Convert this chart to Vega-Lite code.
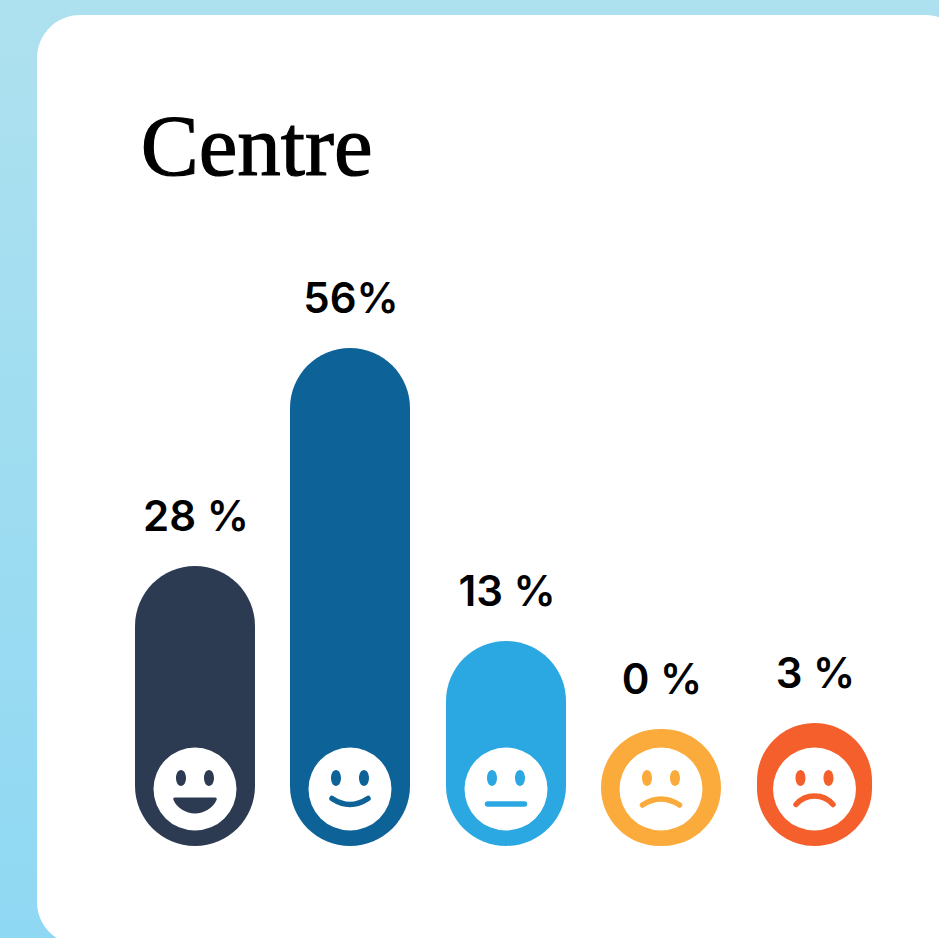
{
"$schema":"https://vega.github.io/schema/vega-lite/v6.json",
"width":939,"height":938,"padding":0,"autosize":{"type":"none"},
"background":"#ffffff",
"config":{"view":{"stroke":null}},
"datasets":{"ratings":[
{"rank":1,"mood":"very happy","pct":28,"label":"28 %","color":"#2c3a52"},
{"rank":2,"mood":"happy","pct":56,"label":"56%","color":"#0d6298"},
{"rank":3,"mood":"neutral","pct":13,"label":"13 %","color":"#2ba8e2"},
{"rank":4,"mood":"unhappy","pct":0,"label":"0 %","color":"#fbaa3c"},
{"rank":5,"mood":"very unhappy","pct":3,"label":"3 %","color":"#f55f2c"}
]},
"layer":[
{"data":{"values":[{"part":"page"}]},
 "mark":{"type":"rect","color":{"gradient":"linear","x1":0,"y1":0,"x2":0,"y2":1,"stops":[{"offset":0,"color":"#aee1ef"},{"offset":1,"color":"#8fd8f3"}]}},
 "encoding":{}},
{"data":{"values":[{"part":"card"}]},
 "mark":{"type":"rect","color":"#ffffff","cornerRadius":43,"clip":true},
 "encoding":{
  "x":{"datum":0,"type":"quantitative","axis":null,"scale":{"domain":[0,1,2,3,4,5,6],"range":[37,195,350,506,661,814.5,968],"padding":0,"zero":false,"nice":false}},
  "x2":{"datum":6},
  "y":{"datum":100,"type":"quantitative","axis":null,"scale":{"domain":[-20,-10,0,3,13,28,56,100],"range":[945,846,729,723,641,566,348,15],"zero":false,"nice":false}},
  "y2":{"datum":-20}}},
{"data":{"values":[{"title":"Centre"}]},
 "mark":{"type":"text","align":"left","baseline":"alphabetic","font":"Liberation Serif","fontSize":87,"color":"#000000","stroke":"#000000","strokeWidth":1.2},
 "encoding":{"text":{"field":"title"},"x":{"datum":0.656,"type":"quantitative"},"y":{"datum":78.8,"type":"quantitative"}}},
{"data":{"name":"ratings"},"transform":[{"filter":"datum.rank<5"}],
 "mark":{"type":"bar","width":120,"cornerRadius":60,"orient":"vertical"},
 "encoding":{"x":{"field":"rank","type":"quantitative"},"y":{"field":"pct","type":"quantitative"},"y2":{"datum":-10},
  "color":{"field":"color","type":"nominal","scale":null}}},
{"data":{"name":"ratings"},"transform":[{"filter":"datum.rank==5"}],
 "mark":{"type":"bar","width":115,"cornerRadius":57.5,"orient":"vertical"},
 "encoding":{"x":{"field":"rank","type":"quantitative"},"y":{"field":"pct","type":"quantitative"},"y2":{"datum":-10},
  "color":{"field":"color","type":"nominal","scale":null}}},
{"data":{"name":"ratings"},
 "mark":{"type":"text","align":"center","baseline":"alphabetic","dx":1,"dy":-35,"font":"Inter","fontWeight":600,"fontSize":42,"color":"#000000"},
 "encoding":{"x":{"field":"rank","type":"quantitative"},"y":{"field":"pct","type":"quantitative"},"text":{"field":"label"}}},
{"data":{"name":"ratings"},
 "mark":{"type":"point","filled":true,"shape":"circle","size":6889,"color":"#ffffff","opacity":1},
 "encoding":{"x":{"field":"rank","type":"quantitative"},"y":{"datum":-5.13,"type":"quantitative"}}},
{"data":{"name":"ratings"},
 "mark":{"type":"point","filled":true,"size":4,"opacity":1},
 "encoding":{"x":{"field":"rank","type":"quantitative"},"y":{"datum":-5.13,"type":"quantitative"},
  "color":{"field":"color","type":"nominal","scale":null},
  "shape":{"field":"mood","type":"nominal","legend":null,"scale":{"domain":["very happy","happy","neutral","unhappy","very unhappy"],"range":[
   "M-14,-19 C-11.2,-19 -9,-15.4 -9,-11 C-9,-6.6 -11.2,-3 -14,-3 C-16.8,-3 -19,-6.6 -19,-11 C-19,-15.4 -16.8,-19 -14,-19 Z M14,-19 C16.8,-19 19,-15.4 19,-11 C19,-6.6 16.8,-3 14,-3 C11.2,-3 9,-6.6 9,-11 C9,-15.4 11.2,-19 14,-19 Z M-20,8.5 L20,8.5 Q22.5,8.5 21.5,11 C18,19 9,24.5 0,24.5 C-9,24.5 -18,19 -21.5,11 Q-22.5,8.5 -20,8.5 Z",
   "M-14,-19 C-11.2,-19 -9,-15.4 -9,-11 C-9,-6.6 -11.2,-3 -14,-3 C-16.8,-3 -19,-6.6 -19,-11 C-19,-15.4 -16.8,-19 -14,-19 Z M14,-19 C16.8,-19 19,-15.4 19,-11 C19,-6.6 16.8,-3 14,-3 C11.2,-3 9,-6.6 9,-11 C9,-15.4 11.2,-19 14,-19 Z",
   "M-14,-19 C-11.2,-19 -9,-15.4 -9,-11 C-9,-6.6 -11.2,-3 -14,-3 C-16.8,-3 -19,-6.6 -19,-11 C-19,-15.4 -16.8,-19 -14,-19 Z M14,-19 C16.8,-19 19,-15.4 19,-11 C19,-6.6 16.8,-3 14,-3 C11.2,-3 9,-6.6 9,-11 C9,-15.4 11.2,-19 14,-19 Z",
   "M-14,-19 C-11.2,-19 -9,-15.4 -9,-11 C-9,-6.6 -11.2,-3 -14,-3 C-16.8,-3 -19,-6.6 -19,-11 C-19,-15.4 -16.8,-19 -14,-19 Z M14,-19 C16.8,-19 19,-15.4 19,-11 C19,-6.6 16.8,-3 14,-3 C11.2,-3 9,-6.6 9,-11 C9,-15.4 11.2,-19 14,-19 Z",
   "M-14,-19 C-11.2,-19 -9,-15.4 -9,-11 C-9,-6.6 -11.2,-3 -14,-3 C-16.8,-3 -19,-6.6 -19,-11 C-19,-15.4 -16.8,-19 -14,-19 Z M14,-19 C16.8,-19 19,-15.4 19,-11 C19,-6.6 16.8,-3 14,-3 C11.2,-3 9,-6.6 9,-11 C9,-15.4 11.2,-19 14,-19 Z"
  ]}}}},
{"data":{"name":"ratings"},"transform":[{"filter":"datum.rank>1"}],
 "mark":{"type":"point","filled":false,"size":4,"strokeWidth":5.5,"strokeCap":"round","opacity":1},
 "encoding":{"x":{"field":"rank","type":"quantitative"},"y":{"datum":-5.13,"type":"quantitative"},
  "color":{"field":"color","type":"nominal","scale":null},
  "shape":{"field":"mood","type":"nominal","legend":null,"scale":{"domain":["happy","neutral","unhappy","very unhappy"],"range":[
   "M-18,9.5 Q0,21.5 18,9.5",
   "M-18.5,15 L18.5,15",
   "M-18.5,16 Q0,4 18.5,16",
   "M-18.5,15.5 C-13,9 -6,7 0,7 C6,7 13,9 18.5,15.5"
  ]}}}}
],
"resolve":{"scale":{"shape":"independent"}}
}
